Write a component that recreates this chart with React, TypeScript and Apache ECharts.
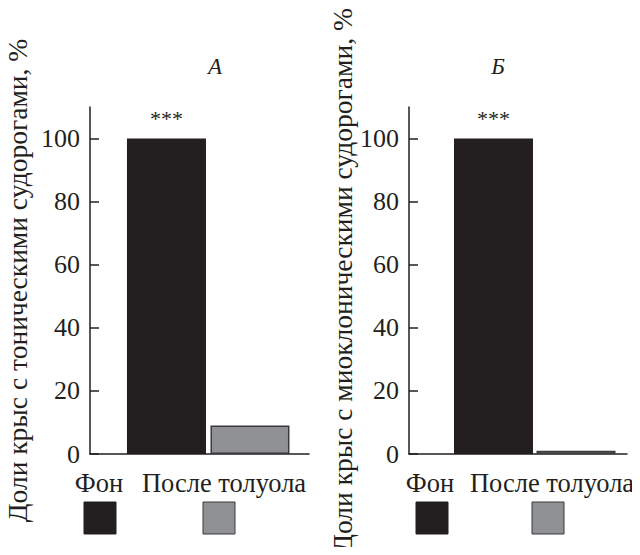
import React, { useEffect, useRef } from "react";
import * as echarts from "echarts";

const categories = ["Фон", "После толуола"];
const tonicValues = [100, 9];
const myoclonicValues = [100, 1];
const yTicks = [0, 20, 40, 60, 80, 100];
const panelTitles = ["А", "Б"];
const yNames = [
  "Доли крыс с тоническими судорогами, %",
  "Доли крыс с миоклоническими судорогами, %",
];
const significance = ["***", ""];

const INK = "#231f20";
const GRAY = "#8f9194";
const FONT = "Liberation Serif";

export default function App() {
  const ref = useRef<HTMLDivElement>(null);
  useEffect(() => {
    if (!ref.current) return;
    const chart = echarts.init(ref.current, undefined, { renderer: "svg" });
    const grids = [
      { left: 90, right: 331, top: 107, bottom: 101 },
      { left: 409, right: 13, top: 107, bottom: 101 },
    ];
    const xRanges = [
      { min: -0.916, max: 1.707 },
      { min: -1.024, max: 1.618 },
    ];
    const nameGaps = [59, 42];
    const colors = [INK, GRAY];
    const panels = [tonicValues, myoclonicValues];

    const xAxes = xRanges.map((r, i) => ({
      type: "value",
      gridIndex: i,
      min: r.min,
      max: r.max,
      axisLine: { show: true, onZero: false, lineStyle: { color: INK, width: 1.5 } },
      axisTick: { show: false },
      axisLabel: { show: false },
      splitLine: { show: false },
    }));
    const yAxes = [0, 1].map((i) => ({
      type: "value",
      gridIndex: i,
      min: 0,
      max: 110,
      interval: 20,
      name: yNames[i],
      nameLocation: "middle",
      nameRotate: 90,
      nameGap: nameGaps[i],
      nameTextStyle: { fontFamily: FONT, fontSize: 27.5, color: INK },
      axisLine: { show: true, onZero: false, lineStyle: { color: INK, width: 1.5 } },
      axisTick: {
        show: true,
        inside: true,
        length: 9,
        customValues: yTicks,
        lineStyle: { color: INK, width: 1.5 },
      },
      axisLabel: {
        customValues: yTicks,
        fontFamily: FONT,
        fontSize: 26,
        color: INK,
        margin: 10,
      },
      splitLine: { show: false },
    }));

    const series = panels.map((vals, i) => ({
      type: "bar",
      xAxisIndex: i,
      yAxisIndex: i,
      barWidth: 79,
      data: vals.map((v, j) => ({
        value: [j, v],
        itemStyle: {
          color: colors[j],
          borderColor: j === 1 ? "#3a3a3c" : INK,
          borderWidth: j === 1 ? 1.5 : 0,
        },
        label: {
          show: significance[j] !== "",
          formatter: significance[j],
          position: "top",
          distance: 9,
          fontFamily: FONT,
          fontSize: 22,
          color: INK,
        },
      })),
    }));

    const legendX = [
      [
        { text: 99, sq: 84 },
        { text: 224, sq: 203 },
      ],
      [
        { text: 430, sq: 416 },
        { text: 552, sq: 532 },
      ],
    ];
    const graphic: any[] = [];
    legendX.forEach((panel) => {
      panel.forEach((p, j) => {
        graphic.push({
          type: "text",
          x: p.text,
          y: 483,
          style: {
            text: categories[j],
            fontFamily: FONT,
            fontSize: 26.5,
            fill: INK,
            textAlign: "center",
            textVerticalAlign: "middle",
          },
        });
        graphic.push({
          type: "rect",
          shape: { x: p.sq, y: 502, width: 32, height: 32 },
          style: { fill: colors[j], stroke: j === 1 ? "#3a3a3c" : INK, lineWidth: 1 },
        });
      });
    });

    const titleStyle = {
      fontFamily: FONT,
      fontSize: 23,
      fontStyle: "italic",
      fontWeight: "normal",
      color: INK,
    };

    chart.setOption({
      animation: false,
      backgroundColor: "#ffffff",
      title: [
        { text: panelTitles[0], left: 210, top: 50, textAlign: "center", textStyle: titleStyle },
        { text: panelTitles[1], left: 493, top: 50, textAlign: "center", textStyle: titleStyle },
      ],
      grid: grids,
      xAxis: xAxes,
      yAxis: yAxes,
      series,
      graphic,
    });
    return () => chart.dispose();
  }, []);
  return <div ref={ref} style={{ width: 640, height: 555, margin: -8 }} />;
}
